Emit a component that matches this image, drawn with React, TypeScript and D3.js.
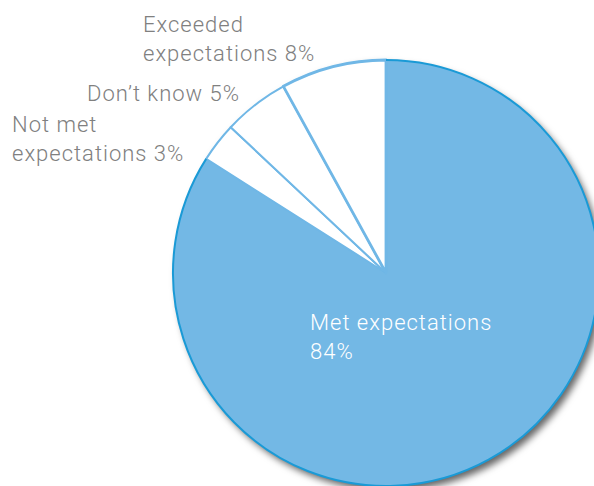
import React from "react";
import * as d3 from "d3";

const categories = ["Met expectations", "Not met expectations", "Don’t know", "Exceeded expectations"];
const values = [84, 3, 5, 8];
const labelLines = [
  ["Met expectations", "84%"],
  ["Not met", "expectations 3%"],
  ["Don’t know 5%"],
  ["Exceeded", "expectations 8%"],
];

const W = 594;
const H = 486;
const cx = 386;
const cy = 273;
const R = 213;

// label anchor positions (x = left edge, y = first baseline)
const labelPos = [
  { x: 310, y: 330, fill: "#ffffff" },
  { x: 12, y: 132, fill: "#808080" },
  { x: 87, y: 101, fill: "#808080" },
  { x: 143, y: 32, fill: "#808080" },
];

export default function App() {
  const pie = d3.pie<number>().sort(null).value((d) => d)(values);
  const arc = d3.arc<d3.PieArcDatum<number>>().innerRadius(0).outerRadius(R);
  const font = "Roboto, 'Helvetica Neue', Arial, sans-serif";
  return (
    <svg
      width={W}
      height={H}
      style={{ position: "absolute", left: 0, top: 0, display: "block" }}
    >
      <defs>
        <filter id="sh" x="-20%" y="-20%" width="140%" height="140%">
          <feDropShadow dx="4" dy="5" stdDeviation="3.5" floodColor="#000" floodOpacity="0.6" />
        </filter>
      </defs>
      <g transform={`translate(${cx},${cy})`}>
        <g filter="url(#sh)">
          {pie.map((p, i) => (
            <path
              key={categories[i]}
              d={arc(p) || ""}
              fill={i === 0 ? "#73b8e5" : "#ffffff"}
              stroke={i === 0 ? "none" : "#6fb7e6"}
              strokeWidth={i === 3 ? 2.8 : 2}
              strokeLinejoin="round"
            />
          ))}
        </g>
        <path
          d={(d3.arc()({ innerRadius: R, outerRadius: R, startAngle: pie[0].startAngle, endAngle: pie[0].endAngle } as any)) || ""}
          fill="none"
          stroke="#1a9ad6"
          strokeWidth={2}
        />
      </g>
      {labelLines.map((lines, i) => (
        <text
          key={i}
          x={labelPos[i].x}
          y={labelPos[i].y}
          fill={labelPos[i].fill}
          fontFamily={font}
          fontWeight={300}
          fontSize={22}
          letterSpacing={1}
        >
          {lines.map((l, j) => (
            <tspan key={j} x={labelPos[i].x} dy={j === 0 ? 0 : 28.5}>
              {l}
            </tspan>
          ))}
        </text>
      ))}
    </svg>
  );
}
